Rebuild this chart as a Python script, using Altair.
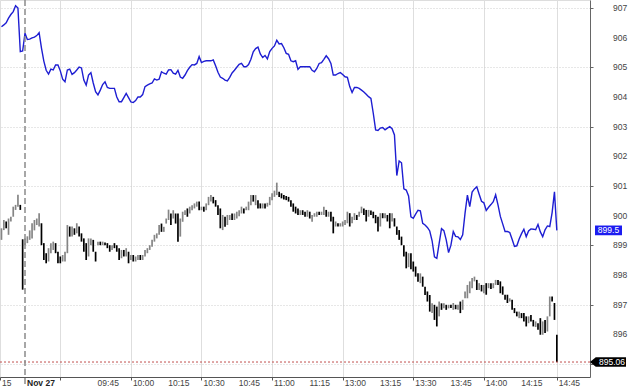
import altair as alt
import pandas as pd

# ---------------- data ----------------
# minute index in trading time, 0 = 09:15 on Nov 27 (lunch break collapsed)
minutes = list(range(-10, 227))

bar_open = [
    899.18, 899.51, 899.80, 899.35, 899.80, 899.96, 900.19, 900.30, 900.36, 899.20,
    899.00, 899.07, 899.18, 899.23, 899.50, 899.68, 899.63, 899.74, 899.07, 898.73,
    898.45, 898.73, 898.84, 899.07, 898.78, 898.62, 898.45, 898.45, 898.73, 899.63,
    899.29, 899.57, 899.40, 899.63, 899.40, 899.23, 899.07, 898.62, 899.00, 899.18,
    898.78, 899.00, 899.12, 899.00, 899.09, 899.07, 899.00, 898.84, 899.07, 899.00,
    898.90, 898.56, 898.84, 898.62, 898.78, 898.50, 898.67, 898.45, 898.50, 898.67,
    898.50, 898.62, 898.73, 898.84, 898.95, 899.12, 899.23, 899.35, 899.73, 899.45,
    899.73, 899.85, 900.07, 899.90, 900.07, 900.07, 899.29, 899.79, 900.02, 900.24,
    900.07, 900.18, 900.24, 900.30, 900.47, 900.18, 900.30, 900.18, 900.35, 900.47,
    900.63, 900.52, 900.35, 900.24, 899.51, 899.96, 899.68, 899.85, 900.07, 899.85,
    899.90, 899.98, 900.07, 900.24, 900.18, 900.18, 900.35, 900.69, 900.35, 900.52,
    900.41, 900.24, 900.41, 900.30, 900.35, 900.52, 900.63, 900.69, 900.80, 900.75,
    900.69, 900.66, 900.63, 900.52, 900.41, 900.30, 900.24, 900.02, 900.18, 900.13,
    899.96, 900.13, 899.79, 899.96, 899.96, 900.13, 900.02, 900.02, 900.19, 899.96,
    900.13, 899.96, 899.63, 899.74, 899.63, 899.63, 899.68, 899.74, 900.08, 899.74,
    899.85, 900.02, 899.96, 900.08, 900.24, 900.19, 899.96, 900.17, 900.13, 900.02,
    899.96, 899.63, 900.08, 899.91, 900.02, 900.08, 899.80, 899.91, 899.63, 899.51,
    899.29, 899.00, 898.78, 898.26, 898.73, 898.45, 898.28, 898.05, 897.72, 897.94,
    897.60, 897.44, 897.32, 896.71, 896.99, 896.93, 896.60, 897.04, 896.87, 896.99,
    896.87, 896.99, 896.82, 896.99, 896.82, 897.10, 896.82, 897.21, 897.21, 897.38,
    897.55, 897.78, 897.83, 897.49, 897.66, 897.38, 897.72, 897.55, 897.72, 897.55,
    897.66, 897.83, 897.78, 897.61, 897.33, 897.33, 897.10, 897.16, 896.88, 896.76,
    896.54, 896.71, 896.71, 896.60, 896.37, 896.65, 896.48, 896.24, 896.37, 896.54,
    895.98, 896.48, 896.09, 896.60, 897.27, 897.05, 895.98,
]

bar_close = [
    899.57, 899.85, 899.57, 899.90, 899.96, 900.30, 900.36, 900.70, 900.19, 897.50,
    899.23, 899.30, 899.50, 899.74, 899.85, 899.90, 900.08, 899.00, 898.50, 898.39,
    898.90, 899.07, 899.12, 898.73, 898.39, 898.39, 898.67, 898.78, 899.68, 899.29,
    899.63, 899.35, 899.74, 899.29, 899.12, 898.78, 898.50, 899.23, 899.23, 898.78,
    898.45, 899.12, 899.00, 899.12, 899.00, 898.90, 898.78, 899.00, 898.90, 898.78,
    898.50, 898.84, 898.62, 898.90, 898.39, 898.67, 898.45, 898.62, 898.67, 898.50,
    898.67, 898.84, 898.90, 899.00, 899.18, 899.35, 899.40, 899.68, 899.45, 899.62,
    899.90, 900.20, 899.68, 900.18, 899.73, 899.12, 899.90, 900.13, 900.18, 899.96,
    900.30, 900.35, 900.41, 900.47, 900.18, 900.30, 900.13, 900.41, 900.63, 900.69,
    900.41, 900.30, 900.02, 899.57, 900.02, 899.62, 900.02, 900.02, 899.85, 900.07,
    900.13, 900.18, 900.30, 900.07, 900.30, 900.47, 900.69, 900.47, 900.69, 900.24,
    900.24, 900.41, 900.24, 900.43, 900.63, 900.75, 900.84, 901.11, 900.63, 900.58,
    900.54, 900.52, 900.47, 900.30, 900.13, 900.07, 900.02, 900.18, 900.02, 899.96,
    900.18, 899.90, 900.02, 900.08, 900.13, 900.02, 900.13, 900.30, 899.96, 900.13,
    899.80, 899.40, 899.80, 899.63, 899.74, 899.80, 899.85, 900.13, 899.63, 899.96,
    900.08, 899.85, 900.13, 900.30, 900.02, 899.80, 900.19, 900.02, 899.91, 899.74,
    899.46, 900.08, 899.91, 900.08, 899.80, 899.57, 900.08, 899.63, 899.35, 899.18,
    899.00, 898.62, 898.22, 898.73, 898.19, 898.11, 897.94, 897.77, 898.05, 897.60,
    897.32, 897.10, 896.76, 897.04, 896.48, 896.26, 897.10, 896.82, 897.04, 896.82,
    896.99, 896.88, 897.05, 896.84, 896.99, 896.71, 897.16, 897.44, 897.66, 897.78,
    897.89, 897.94, 897.49, 897.72, 897.44, 897.66, 897.33, 897.72, 897.52, 897.72,
    897.83, 897.66, 897.38, 897.33, 897.16, 897.05, 897.21, 896.82, 896.71, 896.60,
    896.76, 896.54, 896.43, 896.26, 896.60, 896.43, 896.26, 896.43, 896.15, 895.98,
    896.43, 896.04, 896.60, 897.27, 897.10, 896.48, 895.06,
]

blue_values = [
    906.37, 906.43, 906.50, 906.66, 906.78, 906.88, 907.08, 907.00, 905.53, 905.55,
    906.15, 905.94, 905.95, 905.99, 906.02, 906.07, 906.17, 905.65, 905.21, 904.90,
    904.77, 904.94, 904.91, 905.08, 905.08, 904.88, 904.60, 904.51, 904.91, 904.94,
    904.76, 904.82, 904.91, 905.01, 904.98, 904.57, 904.40, 904.74, 904.82, 904.47,
    904.18, 904.07, 904.23, 904.42, 904.51, 904.32, 904.29, 904.29, 904.29, 904.00,
    903.84, 903.84, 903.98, 904.12, 903.98, 903.83, 903.81, 903.88, 904.00, 904.00,
    904.08, 904.35, 904.40, 904.44, 904.47, 904.61, 904.57, 904.60, 904.85, 904.80,
    904.77, 904.91, 904.92, 904.80, 904.77, 904.90, 904.67, 904.63, 904.74, 904.89,
    905.00, 905.09, 905.08, 905.13, 905.36, 905.16, 905.20, 905.22, 905.22, 905.22,
    905.25, 905.05, 904.83, 904.67, 904.63, 904.57, 904.54, 904.66, 904.81, 904.90,
    905.00, 905.10, 905.13, 905.02, 905.02, 905.09, 905.27, 905.52, 905.63, 905.68,
    905.45, 905.33, 905.40, 905.28, 905.53, 905.64, 905.72, 905.91, 905.79, 905.80,
    905.66, 905.47, 905.44, 905.22, 905.19, 905.22, 904.93, 905.02, 905.02, 905.02,
    905.02, 905.02, 904.90, 904.85, 904.96, 905.13, 905.16, 905.27, 905.39, 905.29,
    905.13, 904.74, 904.74, 904.79, 904.82, 904.76, 904.68, 904.66, 904.35, 904.15,
    904.32, 904.32, 904.29, 904.23, 904.17, 904.09, 904.01, 903.95, 903.45, 902.89,
    902.87, 902.95, 902.97, 902.89, 902.95, 903.00, 902.93, 902.72, 901.35, 901.84,
    901.78, 900.90, 900.86, 900.66, 899.96, 899.91, 900.05, 900.18, 900.16, 899.74,
    899.68, 899.60, 899.48, 899.15, 898.61, 898.56, 899.06, 899.56, 899.49, 899.18,
    898.75, 899.00, 899.46, 899.30, 899.28, 899.19, 899.35, 900.08, 900.69, 900.30,
    900.79, 900.90, 900.97, 900.72, 900.48, 900.43, 900.17, 900.28, 900.37, 900.47,
    900.70, 900.36, 899.97, 899.72, 899.46, 899.46, 899.43, 899.20, 898.96, 898.98,
    899.21, 899.39, 899.54, 899.29, 899.48, 899.55, 899.54, 899.52, 899.70, 899.45,
    899.29, 899.52, 899.65, 899.63, 900.10, 900.80, 899.50,
]

tick_minutes = [-10.625, 0, 15, 30, 45, 60, 75, 90, 105, 120, 135, 150, 165, 180, 195, 210, 226]
tick_labels = ["15", "Nov 27", "", "09:45", "10:00", "10:15", "10:30", "10:45", "11:00",
               "11:15", "13:00", "13:15", "13:30", "13:45", "14:00", "14:15", "14:45"]
price_ticks = [895, 896, 897, 898, 899, 900, 901, 902, 903, 904, 905, 906, 907]
price_labels = ["", "896", "897", "898", "899", "900", "901", "902", "903", "904", "905", "906", "907"]
day_break = [0]
last_blue = [899.5]
last_blue_label = ["899.5"]
last_close = [895.06]
last_close_label = ["895.06"]

# ---------------- chart ----------------
FONT = "Liberation Sans"
x_scale = alt.Scale(domain=[-10.625, 240.1], nice=False, zero=False)
y_scale = alt.Scale(domain=[894.555, 907.27], nice=False, zero=False)

x_axis = alt.Axis(
    values=tick_minutes, labels=False, title=None,
    grid=True, gridColor="#dedede", gridWidth=1,
    domainColor="#555", tickColor="#555", tickSize=3,
)
y_axis = alt.Axis(
    orient="right", values=price_ticks, labels=False, title=None,
    grid=True, gridColor="#cfcfcf", gridDash=[1, 2], gridWidth=1,
    domainColor="#666", tickColor="#666", tickSize=3,
)

bars_df = pd.DataFrame({"t": minutes, "open": bar_open, "close": bar_close})
blue_df = pd.DataFrame({"t": minutes, "v": blue_values})
xlab_df = pd.DataFrame({"t": tick_minutes, "label": tick_labels})
ylab_df = pd.DataFrame({"v": price_ticks, "label": price_labels})

bars = alt.Chart(bars_df).transform_calculate(
    dir="datum.close >= datum.open ? 'up' : 'down'"
).mark_rule(strokeWidth=1.7).encode(
    x=alt.X("t:Q", scale=x_scale, axis=x_axis),
    y=alt.Y("open:Q", scale=y_scale, axis=y_axis),
    y2="close:Q",
    color=alt.Color("dir:N", scale=alt.Scale(domain=["up", "down"], range=["#858585", "#000000"]), legend=None),
)

blue = alt.Chart(blue_df).mark_line(color="#1e1ed2", strokeWidth=1.4).encode(
    x=alt.X("t:Q", scale=x_scale),
    y=alt.Y("v:Q", scale=y_scale),
)

close_rule = alt.Chart(pd.DataFrame({"v": last_close})).mark_rule(
    color="#c0504d", strokeDash=[2, 2], strokeWidth=1
).encode(y=alt.Y("v:Q", scale=y_scale))

sep = alt.Chart(pd.DataFrame({"t": day_break})).mark_rule(
    color="#8a8a8a", strokeDash=[6, 3], strokeWidth=1.5
).encode(x=alt.X("t:Q", scale=x_scale), y=alt.value(0), y2=alt.value(386))

# axis labels as text drawn through the scales
xlab_normal = alt.Chart(xlab_df).transform_filter("datum.t != 0").mark_text(
    font=FONT, fontSize=8.5, color="#444", align="left", baseline="top", dx=2
).encode(x=alt.X("t:Q", scale=x_scale), y=alt.value(378.5), text="label:N")
xlab_bold = alt.Chart(xlab_df).transform_filter("datum.t == 0").mark_text(
    font=FONT, fontSize=8.5, fontWeight="bold", color="#222", align="left", baseline="top", dx=2
).encode(x=alt.X("t:Q", scale=x_scale), y=alt.value(378.5), text="label:N")
ylab = alt.Chart(ylab_df).mark_text(
    font=FONT, fontSize=8.5, color="#444", align="left", baseline="middle"
).encode(x=alt.value(613), y=alt.Y("v:Q", scale=y_scale), text="label:N")

blue_badge = alt.Chart(pd.DataFrame({"v": last_blue, "label": last_blue_label})).mark_point(
    shape="M-1,-0.36L1,-0.36L1,0.36L-1,0.36Z", size=729, filled=True, opacity=1,
    color="#1c1cf0", strokeWidth=0
).encode(x=alt.value(608.5), y=alt.Y("v:Q", scale=y_scale))
blue_badge_text = alt.Chart(pd.DataFrame({"v": last_blue, "label": last_blue_label})).mark_text(
    color="white", font=FONT, fontSize=8.5, align="center", baseline="middle"
).encode(x=alt.value(608.5), y=alt.Y("v:Q", scale=y_scale), text="label:N")

close_badge = alt.Chart(pd.DataFrame({"v": last_close, "label": last_close_label})).mark_point(
    shape="M-1,0L-0.68,-0.26L1,-0.26L1,0.26L-0.68,0.26Z", size=1296, filled=True, opacity=1,
    color="#000000", strokeWidth=0
).encode(x=alt.value(608), y=alt.Y("v:Q", scale=y_scale))
close_badge_text = alt.Chart(pd.DataFrame({"v": last_close, "label": last_close_label})).mark_text(
    color="white", font=FONT, fontSize=8.5, align="center", baseline="middle"
).encode(x=alt.value(612), y=alt.Y("v:Q", scale=y_scale), text="label:N")

chart = alt.layer(
    bars, close_rule, blue, sep, xlab_normal, xlab_bold, ylab,
    blue_badge, blue_badge_text, close_badge, close_badge_text
).properties(
    width=590, height=377,
    padding={"left": 0, "right": 40, "top": 0, "bottom": 10},
    autosize=alt.AutoSizeParams(type="none"),
).configure_view(stroke=None).configure(background="white")

chart.save("out.html", embed_options={"renderer": "svg", "actions": False})
